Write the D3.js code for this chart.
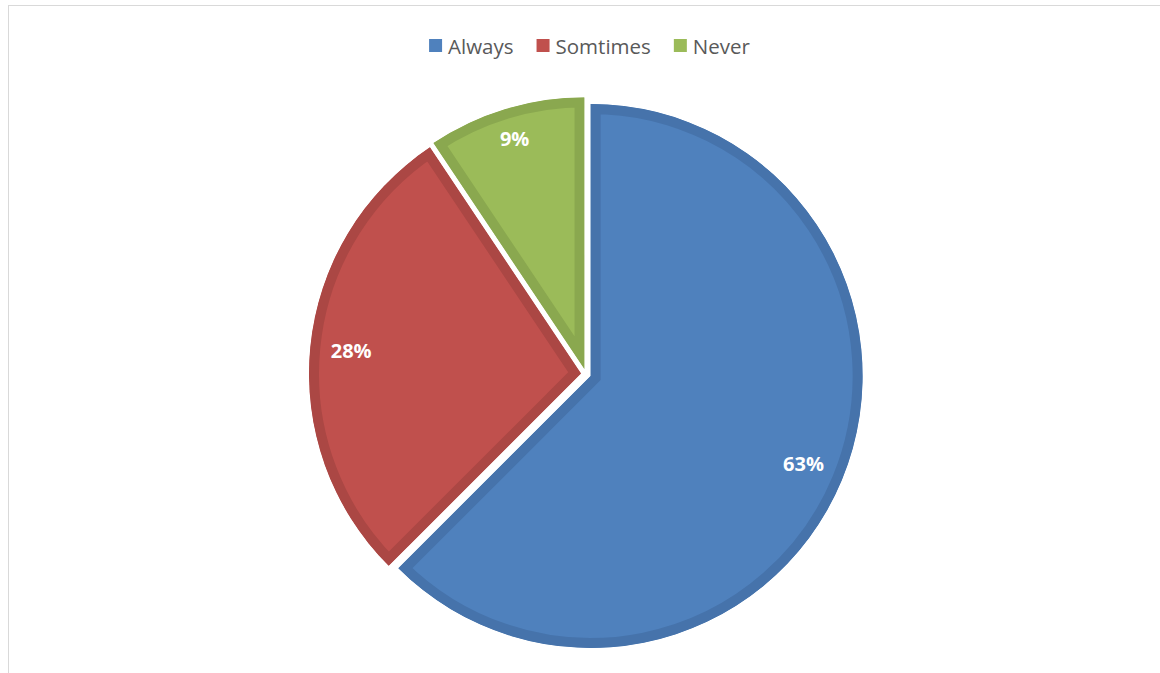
<!DOCTYPE html>
<html>
<head>
<meta charset="utf-8">
<script src="https://cdn.jsdelivr.net/npm/d3@7"></script>
<style>
  html, body { margin: 0; padding: 0; background: #ffffff; }
  svg { display: block; }
</style>
</head>
<body>
<svg id="chart" width="1160" height="673"></svg>
<script>
// Survey answers: number of respondents per answer
const categories = ["Always", "Somtimes", "Never"];
const counts = [20, 9, 3];
const fillColors = ["#4F81BD", "#C0504D", "#9BBB59"];
const edgeColors = ["#4673AB", "#AB4744", "#8AA84F"];

const W = 1160, H = 673;
const svg = d3.select("#chart");
const total = d3.sum(counts);
const pctLabel = v => Math.round(v / total * 100) + "%";

// chart area frame
svg.append("rect")
  .attr("x", 8.5).attr("y", 5.5)
  .attr("width", W + 20).attr("height", H + 20)
  .attr("fill", "#ffffff")
  .attr("stroke", "#d9d9d9").attr("stroke-width", 1);

const cx = 586, cy = 374;
const radius = 272;
const explode = 5;
const band = 10;
const labelFit = 252;   // labels sit just inside this radius
const labelSize = 20;
const capH = labelSize * 0.714;

const pie = d3.pie().sort(null).value(d => d.value);
const arcs = pie(categories.map((c, i) => ({ name: c, value: counts[i], i })));
const arc = d3.arc().innerRadius(0).outerRadius(radius);

const defs = svg.append("defs");
const g = svg.append("g").attr("transform", `translate(${cx},${cy})`);

arcs.forEach((a, k) => {
  const mid = (a.startAngle + a.endAngle) / 2;
  const ux = Math.sin(mid), uy = -Math.cos(mid);
  const sg = g.append("g").attr("transform", `translate(${ux * explode},${uy * explode})`);
  const id = "clip-" + k;
  // clip to the slice so the darker edge band sits inside it
  defs.append("clipPath").attr("id", id)
    .append("path").attr("d", arc(a));
  sg.append("path")
    .attr("d", arc(a))
    .attr("fill", fillColors[a.data.i])
    .attr("stroke", edgeColors[a.data.i])
    .attr("stroke-width", band * 2)
    .attr("stroke-linejoin", "miter")
    .attr("clip-path", `url(#${id})`);
  const t = sg.append("text")
    .attr("text-anchor", "middle")
    .attr("font-family", "'Open Sans', sans-serif")
    .attr("font-weight", "bold")
    .attr("font-size", labelSize)
    .attr("fill", "#ffffff")
    .text(pctLabel(a.data.value));
  // best-fit: push the label box out until its outer corner reaches labelFit
  const hw = t.node().getComputedTextLength() / 2, hh = capH / 2;
  const r = labelFit - (Math.abs(ux) * hw + Math.abs(uy) * hh);
  t.attr("x", ux * r).attr("y", uy * r + hh);
});

// legend
const legend = svg.append("g");
const items = legend.selectAll("g").data(categories).join("g");
items.append("rect")
  .attr("width", 13).attr("height", 13)
  .attr("fill", (d, i) => fillColors[i]);
items.append("text")
  .attr("x", 19).attr("y", 6.5)
  .attr("dominant-baseline", "central")
  .attr("font-family", "'Open Sans', sans-serif")
  .attr("font-size", 20.5)
  .attr("fill", "#595959")
  .text(d => d);
let x = 0;
const offs = [];
items.each(function () {
  offs.push(x);
  const w = 19 + d3.select(this).select("text").node().getComputedTextLength();
  x += w + 23;
});
const legendW = x - 23;
const startX = 589.5 - legendW / 2;
items.attr("transform", (d, i) => `translate(${startX + offs[i]},39)`);
</script>
</body>
</html>
